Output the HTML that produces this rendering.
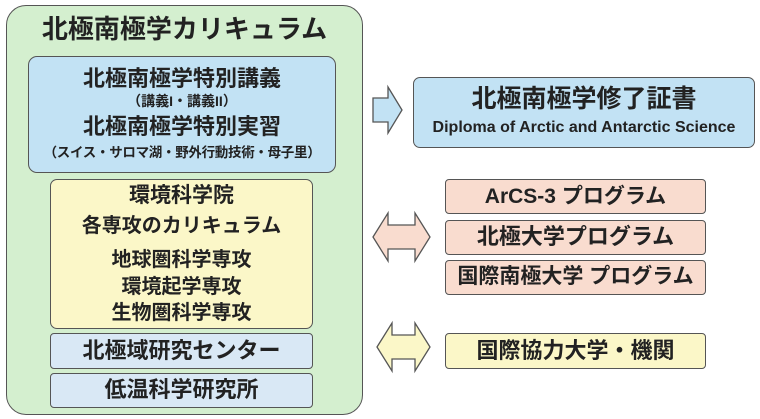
<!DOCTYPE html>
<html><head><meta charset="utf-8"><style>
body{margin:0;width:760px;height:419px;background:#fff;position:relative;overflow:hidden;font-family:"Liberation Sans","Noto Sans CJK JP",sans-serif;font-weight:bold;color:#222}
.b{position:absolute;box-sizing:border-box;border:1.5px solid #555;}
.t{position:absolute;left:0;right:0;text-align:center;white-space:nowrap;line-height:1}
</style></head><body>
<div class="b" style="left:6px;top:5px;width:357px;height:410px;background:#d4efcf;border-radius:20px"></div>
<div class="t" style="left:6px;width:357px;top:16px;font-size:26px">北極南極学カリキュラム</div>
<div class="b" style="left:28px;top:56px;width:308px;height:117px;background:#c2e2f4;border-radius:9px"></div>
<div class="t" style="left:28px;width:308px;top:68px;font-size:22px">北極南極学特別講義</div>
<div class="t" style="left:28px;width:308px;top:94px;font-size:14px">（講義I・講義II）</div>
<div class="t" style="left:28px;width:308px;top:116px;font-size:22px">北極南極学特別実習</div>
<div class="t" style="left:28px;width:308px;top:146px;font-size:13.5px;letter-spacing:-0.3px">（スイス・サロマ湖・野外行動技術・母子里）</div>
<div class="b" style="left:50px;top:179px;width:263px;height:150px;background:#fbf7c8;border-radius:7px"></div>
<div class="t" style="left:50px;width:263px;top:185px;font-size:21px">環境科学院</div>
<div class="t" style="left:50px;width:263px;top:216px;font-size:20px">各専攻のカリキュラム</div>
<div class="t" style="left:50px;width:263px;top:250px;font-size:20px">地球圏科学専攻</div>
<div class="t" style="left:50px;width:263px;top:277px;font-size:20px">環境起学専攻</div>
<div class="t" style="left:50px;width:263px;top:303px;font-size:20px">生物圏科学専攻</div>
<div class="b" style="left:50px;top:333px;width:263px;height:36px;background:#d9e8f5;border-radius:4px"></div>
<div class="t" style="left:50px;width:263px;top:340px;font-size:22px">北極域研究センター</div>
<div class="b" style="left:50px;top:373px;width:263px;height:35px;background:#d9e8f5;border-radius:4px"></div>
<div class="t" style="left:50px;width:263px;top:379px;font-size:22px">低温科学研究所</div>

<div class="b" style="left:413px;top:77px;width:342px;height:71px;background:#c2e2f4;border-radius:7px"></div>
<div class="t" style="left:413px;width:342px;top:87px;font-size:25px">北極南極学修了証書</div>
<div class="t" style="left:413px;width:342px;top:120px;font-size:16px">Diploma of Arctic and Antarctic Science</div>

<div class="b" style="left:445px;top:179px;width:261px;height:35px;background:#f9dccf;border-radius:4px"></div>
<div class="t" style="left:445px;width:261px;top:186px;font-size:21px">ArCS-3 プログラム</div>
<div class="b" style="left:445px;top:220px;width:261px;height:35px;background:#f9dccf;border-radius:4px"></div>
<div class="t" style="left:445px;width:261px;top:226px;font-size:22px">北極大学プログラム</div>
<div class="b" style="left:445px;top:260px;width:261px;height:35px;background:#f9dccf;border-radius:4px"></div>
<div class="t" style="left:445px;width:261px;top:266px;font-size:21px">国際南極大学 プログラム</div>
<div class="b" style="left:445px;top:333px;width:261px;height:36px;background:#fbf7c8;border-radius:4px"></div>
<div class="t" style="left:445px;width:261px;top:340px;font-size:22px">国際協力大学・機関</div>

<svg width="760" height="419" style="position:absolute;left:0;top:0">
<polygon points="373,98 388,98 388,87 402,110 388,133 388,122 373,122" fill="#c2e2f4" stroke="#555" stroke-width="1.3"/>
<polygon points="373,237 388,213 388,225 415,225 415,213 430,237 415,261 415,249 388,249 388,261" fill="#f9dccf" stroke="#555" stroke-width="1.3"/>
<polygon points="377,347 392,323 392,335 415,335 415,323 430,347 415,371 415,359 392,359 392,371" fill="#fbf7c8" stroke="#555" stroke-width="1.3"/>
</svg>
</body></html>
